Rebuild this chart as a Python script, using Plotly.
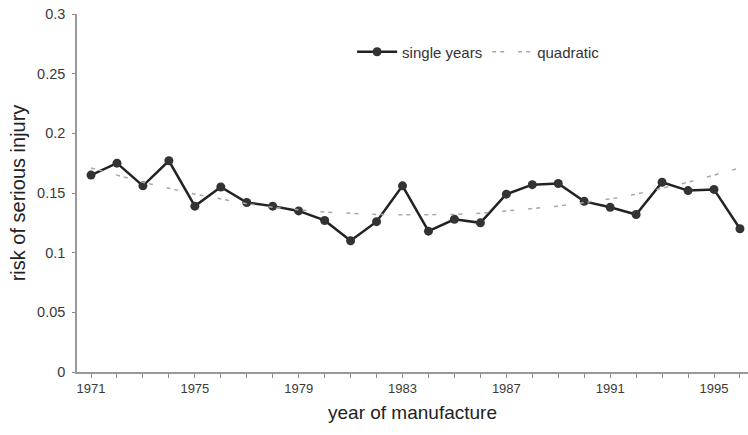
import plotly.graph_objects as go

years = list(range(1971, 1997))
single_years = [0.165, 0.175, 0.156, 0.177, 0.139, 0.155, 0.142, 0.139, 0.135, 0.127,
                0.110, 0.126, 0.156, 0.118, 0.128, 0.125, 0.149, 0.157, 0.158, 0.143,
                0.138, 0.132, 0.159, 0.152, 0.153, 0.120]
quadratic = [0.171, 0.165, 0.159, 0.154, 0.149, 0.145, 0.141, 0.138, 0.136, 0.134,
             0.133, 0.132, 0.1317, 0.1317, 0.132, 0.133, 0.135, 0.137, 0.139, 0.142,
             0.145, 0.149, 0.154, 0.159, 0.165, 0.171]
x_tick_labels = [1971, 1975, 1979, 1983, 1987, 1991, 1995]
y_tick_vals = [0, 0.05, 0.1, 0.15, 0.2, 0.25, 0.3]
y_tick_text = ["0", "0.05", "0.1", "0.15", "0.2", "0.25", "0.3"]

FONT = "Liberation Sans, Arial, sans-serif"

fig = go.Figure()
fig.add_trace(go.Scatter(
    x=years, y=single_years, name="single years", mode="lines+markers",
    line=dict(color="#222222", width=2.5),
    marker=dict(color="#333333", size=9),
))
fig.add_trace(go.Scatter(
    x=years, y=quadratic, name="quadratic", mode="lines",
    line=dict(color="#a8a8a8", width=1.5, dash="4px,4px,4px,14px"),
))

fig.update_layout(
    width=748, height=435,
    margin=dict(l=77, r=0, t=14, b=63, autoexpand=False),
    paper_bgcolor="white", plot_bgcolor="white",
    font=dict(family=FONT, size=14, color="#444444"),
    showlegend=True,
    legend=dict(orientation="h", x=0.41, y=0.894, xanchor="left", yanchor="middle",
                font=dict(size=15, color="#333333"), bgcolor="rgba(0,0,0,0)",
                itemwidth=40, tracegroupgap=0),
    xaxis=dict(
        range=[1970.46, 1996.31], showgrid=False, zeroline=False, automargin=False,
        showline=True, linecolor="#999999", linewidth=1.5,
        tickvals=x_tick_labels, ticktext=[str(v) for v in x_tick_labels],
        ticks="outside", ticklen=4, tickcolor="#888888",
        minor=dict(dtick=1, tick0=1971, ticks="outside", ticklen=4, tickcolor="#888888"),
        tickfont=dict(size=13, color="#3a3a3a"),
        title=dict(text="year of manufacture", font=dict(size=19, color="#222222"), standoff=10),
    ),
    yaxis=dict(
        range=[0, 0.3], showgrid=False, zeroline=False, automargin=False,
        showline=True, linecolor="#999999", linewidth=1.5,
        tickvals=y_tick_vals, ticktext=y_tick_text,
        ticks="outside", ticklen=3, tickcolor="#888888", ticklabelstandoff=4,
        tickfont=dict(size=14.5, color="#3a3a3a"),
        title=dict(text="risk of serious injury", font=dict(size=20, color="#222222"), standoff=6),
    ),
)

fig.write_html("out.html", config={"displayModeBar": False},
               post_script="document.body.style.margin='0';")
